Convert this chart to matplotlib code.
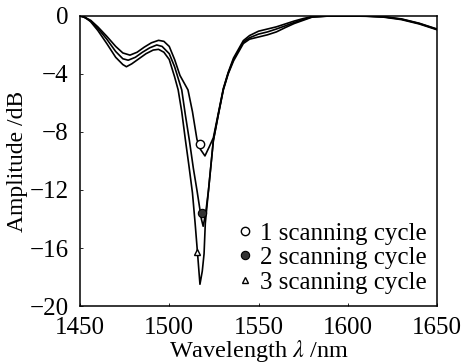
import numpy as np
import matplotlib
matplotlib.use('Agg')
import matplotlib.pyplot as plt

plt.rc('mathtext', fontset='stix')
plt.rc('font', family='Liberation Serif', size=17)

# curve 1 (shallowest dip)
wl1 = [1450, 1452, 1456, 1460, 1465, 1470, 1474, 1478, 1482, 1486, 1490, 1494, 1497,
       1500, 1503, 1506, 1510.5, 1513, 1515.5, 1517.5, 1520, 1522.5, 1524.7, 1527.5, 1530.3,
       1533, 1536, 1541.5, 1545, 1550, 1555, 1560, 1565, 1570, 1575, 1580, 1590, 1600,
       1610, 1620, 1630, 1640, 1650]
amp1 = [0, -0.05, -0.3, -0.75, -1.4, -2.1, -2.55, -2.7, -2.5, -2.15, -1.85, -1.68, -1.75,
        -2.1, -3.0, -4.1, -5.1, -6.6, -8.5, -9.2, -9.65, -9.0, -8.4, -6.7, -5.0,
        -3.9, -2.9, -1.7, -1.35, -1.05, -0.9, -0.75, -0.55, -0.35, -0.18, -0.04, 0, 0,
        0, -0.05, -0.2, -0.5, -0.9]

# curve 2
wl2 = [1450, 1452, 1456, 1460, 1465, 1470, 1474, 1477, 1481, 1485, 1489, 1493, 1496,
       1500, 1503, 1507, 1509, 1511.3, 1513.5, 1515.5, 1517, 1518, 1519, 1520.4, 1522,
       1524.7, 1527.5, 1530.3, 1533, 1536, 1541.5, 1545, 1550, 1555, 1560, 1565, 1570,
       1575, 1580, 1590, 1600, 1610, 1620, 1630, 1640, 1650]
amp2 = [0, -0.07, -0.35, -0.85, -1.6, -2.45, -2.95, -3.05, -2.85, -2.5, -2.2, -2.0, -2.1,
        -2.6, -3.5, -5.1, -6.8, -8.6, -10.5, -12.0, -13.2, -14.0, -14.5, -13.6, -12.0,
        -8.6, -6.8, -5.05, -3.95, -3.0, -1.8, -1.5, -1.25, -1.1, -0.9, -0.68, -0.45,
        -0.25, -0.06, 0, 0, -0.01, -0.06, -0.22, -0.52, -0.92]

# curve 3 (deepest dip)
wl3 = [1450, 1453, 1456, 1460, 1465, 1470, 1474, 1476, 1479, 1483, 1487, 1491, 1494, 1497,
       1500, 1503, 1505, 1507, 1509, 1511, 1513, 1514.5, 1516, 1517.2, 1518.5, 1519.5,
       1520.2, 1522, 1524.7, 1527.5, 1530.3, 1533, 1536, 1541.5, 1545, 1550, 1555, 1560,
       1565, 1570, 1575, 1580, 1590, 1600, 1610, 1620, 1630, 1640, 1650]
amp3 = [0, -0.1, -0.4, -1.0, -1.9, -2.85, -3.35, -3.5, -3.3, -2.95, -2.6, -2.35, -2.3, -2.5,
        -3.0, -4.2, -5.1, -6.6, -8.5, -10.3, -12.2, -14.3, -16.6, -18.5, -17.6, -16.4,
        -14.3, -12.0, -8.6, -6.8, -5.1, -4.0, -3.1, -1.9, -1.6, -1.45, -1.3, -1.1,
        -0.8, -0.52, -0.3, -0.08, 0, 0, -0.02, -0.08, -0.25, -0.55, -0.95]

# marker positions
mk_wl = [1517.2, 1518.1, 1515.7]
mk_amp = [-8.8, -13.6, -16.3]
labels = ['1 scanning cycle', '2 scanning cycle', '3 scanning cycle']

fig = plt.figure(figsize=(4.61, 3.63), dpi=100)
ax = fig.add_axes([0.1735, 0.157, 0.7745, 0.799])

for wl, amp in [(wl1, amp1), (wl2, amp2), (wl3, amp3)]:
    ax.plot(wl, amp, color='black', lw=1.2)

h1, = ax.plot(mk_wl[0], mk_amp[0], 'o', ms=6, mfc='white', mec='black', mew=1.0, label=labels[0])
h2, = ax.plot(mk_wl[1], mk_amp[1], 'o', ms=6, mfc='#333333', mec='black', mew=0.8, label=labels[1])
h3, = ax.plot(mk_wl[2], mk_amp[2], '^', ms=5, mfc='white', mec='black', mew=1.0, label=labels[2])

ax.legend(handles=[h1, h2, h3], loc='lower right', frameon=False, fontsize=18,
          handlelength=0.6, handletextpad=0.3, labelspacing=0.08,
          borderaxespad=0.1, bbox_to_anchor=(1.005, 0.0))

ax.set_xlim(1450, 1650)
ax.set_ylim(-20, 0)
ax.set_xticks([1450, 1500, 1550, 1600, 1650])
ax.set_yticks([0, -4, -8, -12, -16, -20])
ax.tick_params(direction='in', length=2, width=0.6, labelsize=18)
ax.tick_params(axis='x', pad=8)
ax.tick_params(axis='y', pad=8)
for s in ax.spines.values():
    s.set_linewidth(1.1)

ax.set_xlabel(r'Wavelength $\lambda$ /nm', fontsize=17.5, labelpad=-1)
ax.set_ylabel('Amplitude /dB', fontsize=17, labelpad=1)

plt.savefig('out.png', dpi=100)
